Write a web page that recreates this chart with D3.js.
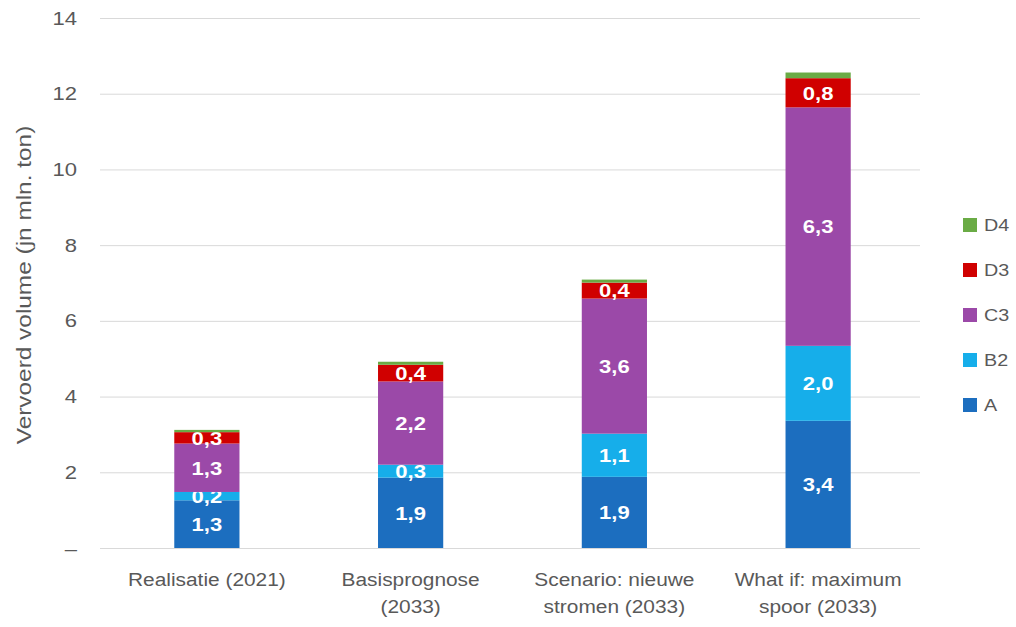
<!DOCTYPE html>
<html>
<head>
<meta charset="utf-8">
<script src="https://cdn.jsdelivr.net/npm/d3@7"></script>
<style>
  body { margin: 0; background: #fff; }
  text { font-family: "Liberation Sans", Arial, sans-serif; }
</style>
</head>
<body>
<svg id="chart"></svg>
<script>
var categories = [["Realisatie (2021)"], ["Basisprognose", "(2033)"], ["Scenario: nieuwe", "stromen (2033)"], ["What if: maximum", "spoor (2033)"]];
var seriesNames = ["A", "B2", "C3", "D3", "D4"];
var seriesA = [1.26, 1.86, 1.88, 3.36];
var seriesB2 = [0.22, 0.34, 1.14, 1.98];
var seriesC3 = [1.28, 2.2, 3.57, 6.3];
var seriesD3 = [0.3, 0.44, 0.42, 0.77];
var seriesD4 = [0.06, 0.08, 0.08, 0.15];
var colors = ["#1c6ebf", "#16aeea", "#9b49a8", "#d00000", "#6aab45"];
var yTicks = [0, 2, 4, 6, 8, 10, 12, 14];

var width = 1016;
var height = 627;
var svg = d3.select("#chart").attr("width", width).attr("height", height);

// text in the source is a bit wider than Arial, so stretch it along its length
var stretch = 1.16;

var margin = { top: 18, right: 96, bottom: 79, left: 105 };
var x = d3.scaleBand().domain(d3.range(categories.length)).range([margin.left, width - margin.right]).paddingInner(0.68).paddingOuter(0.34);
var y = d3.scaleLinear().domain([0, 14]).range([height - margin.bottom, margin.top]);

var rows = categories.map(function (c, i) {
  return { A: seriesA[i], B2: seriesB2[i], C3: seriesC3[i], D3: seriesD3[i], D4: seriesD4[i] };
});
var stacked = d3.stack().keys(seriesNames)(rows);

// gridlines + tick labels
var yAxis = d3.axisLeft(y).tickValues(yTicks).tickSize(-(width - margin.right - 100)).tickFormat(function (d) {
  return d === 0 ? "\u2013" : d;
});
var gy = svg.append("g").attr("transform", "translate(100,0)").call(yAxis);
gy.select(".domain").remove();
gy.selectAll(".tick line").attr("stroke", "#d9d9d9").attr("stroke-width", 1);
gy.selectAll(".tick text").attr("x", null).attr("fill", "#595959").style("font-size", "19px")
  .attr("transform", "translate(-23,0) scale(" + stretch + ",1)");

// bars
var layers = svg.append("g").selectAll("g").data(stacked).enter().append("g")
  .attr("fill", function (d, i) { return colors[i]; });
layers.selectAll("rect").data(function (d) { return d; }).enter().append("rect")
  .attr("x", function (d, i) { return x(i); })
  .attr("width", x.bandwidth())
  .attr("y", function (d) { return y(d[1]); })
  .attr("height", function (d) { return y(d[0]) - y(d[1]); });

// value labels (not for D4)
var fmt = function (v) { return v.toFixed(1).replace(".", ","); };
layers.filter(function (d) { return d.key !== "D4"; }).selectAll("text.val").data(function (d) { return d; }).enter().append("text")
  .attr("class", "val")
  .attr("transform", function (d, i) {
    return "translate(" + (x(i) + x.bandwidth() / 2) + "," + ((y(d[0]) + y(d[1])) / 2) + ") scale(" + stretch + ",1)";
  })
  .attr("dy", "0.36em")
  .attr("text-anchor", "middle")
  .attr("fill", "#fff")
  .style("font-size", "19px")
  .style("font-weight", "bold")
  .text(function (d) { return fmt(d[1] - d[0]); });

// x labels
var xl = svg.append("g").selectAll("text").data(categories).enter().append("text")
  .attr("text-anchor", "middle")
  .attr("fill", "#595959")
  .style("font-size", "18px")
  .attr("transform", function (d, i) {
    return "translate(" + (x(i) + x.bandwidth() / 2) + ",586) scale(" + stretch + ",1)";
  });
xl.selectAll("tspan").data(function (d) { return d; }).enter().append("tspan")
  .attr("x", 0)
  .attr("dy", function (d, i) { return i === 0 ? 0 : 27; })
  .text(function (d) { return d; });

// y title
svg.append("text")
  .attr("transform", "translate(31,285) rotate(-90) scale(1.22,1)")
  .attr("text-anchor", "middle")
  .attr("fill", "#595959")
  .style("font-size", "20px")
  .text("Vervoerd volume (jn mln. ton)");

// legend
var legend = svg.append("g").selectAll("g").data(seriesNames.slice().reverse()).enter().append("g")
  .attr("transform", function (d, i) { return "translate(963," + (225 + i * 45) + ")"; });
legend.append("rect").attr("x", 0).attr("y", -7).attr("width", 14).attr("height", 14)
  .attr("fill", function (d) { return colors[seriesNames.indexOf(d)]; });
legend.append("text").attr("transform", "translate(21,0) scale(" + stretch + ",1)")
  .attr("dy", "0.36em").attr("fill", "#595959").style("font-size", "17px")
  .text(function (d) { return d; });
</script>
</body>
</html>
